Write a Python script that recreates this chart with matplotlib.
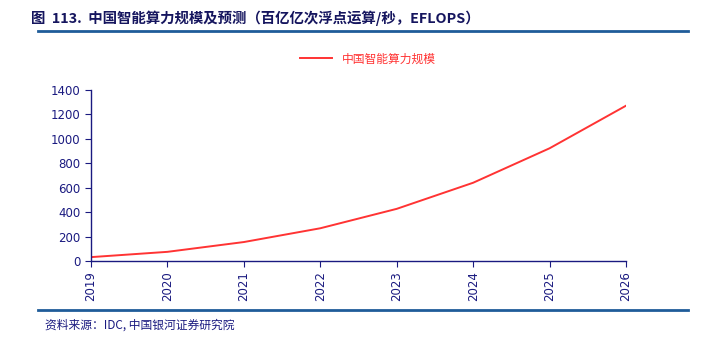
import matplotlib
matplotlib.use("Agg")
import matplotlib.pyplot as plt
from matplotlib.lines import Line2D

plt.rcParams['font.family'] = ['Noto Sans CJK SC', 'DejaVu Sans']

years = ["2019", "2020", "2021", "2022", "2023", "2024", "2025", "2026"]
scale = [31.7, 75.0, 155.2, 268.0, 427.0, 640.7, 922.8, 1271.4]
series_name = "中国智能算力规模"
title = "图  113.  中国智能算力规模及预测（百亿亿次浮点运算/秒，EFLOPS）"
source = "资料来源：IDC, 中国银河证券研究院"

navy = "#1a1a80"
fig = plt.figure(figsize=(7.07, 3.37), dpi=100)
W, H = 707, 337
ax = fig.add_axes([91 / W, 1 - 261 / H, (626 - 91) / W, (261 - 90) / H])

x = list(range(len(years)))
ax.plot(x, scale, color="#ff3333", lw=1.4, label=series_name)

ax.set_xlim(0, len(years) - 1)
ax.set_ylim(0, 1400)
ax.set_yticks(range(0, 1401, 200))
ax.set_xticks(x)
ax.set_xticklabels(years, rotation=90)
for s in ["top", "right"]:
    ax.spines[s].set_visible(False)
for s in ["left", "bottom"]:
    ax.spines[s].set_color(navy)
    ax.spines[s].set_linewidth(1.0)
ax.tick_params(colors=navy, labelsize=9, length=4, width=0.8)
for lbl in ax.get_xticklabels() + ax.get_yticklabels():
    lbl.set_family("DejaVu Sans")
    lbl.set_fontsize(8.5)

ax.legend(loc="center", bbox_to_anchor=(368 / W, 1 - 59 / H),
          bbox_transform=fig.transFigure, frameon=False, fontsize=8.5,
          handlelength=2.7, labelcolor="#ff3333")

fig.text(31 / W, 1 - 18 / H, title, fontsize=10.4, fontweight="bold",
         color="#15155e", va="center", ha="left")
fig.add_artist(Line2D([38 / W, 688 / W], [1 - 31 / H] * 2,
                      color="#1f5c99", lw=2, transform=fig.transFigure))
fig.add_artist(Line2D([38 / W, 688 / W], [1 - 310 / H] * 2,
                      color="#1f5c99", lw=2, transform=fig.transFigure))
fig.text(45 / W, 1 - 325 / H, source, fontsize=8.5, style="italic",
         color=navy, va="center", ha="left")

fig.savefig("out.png", dpi=100)
